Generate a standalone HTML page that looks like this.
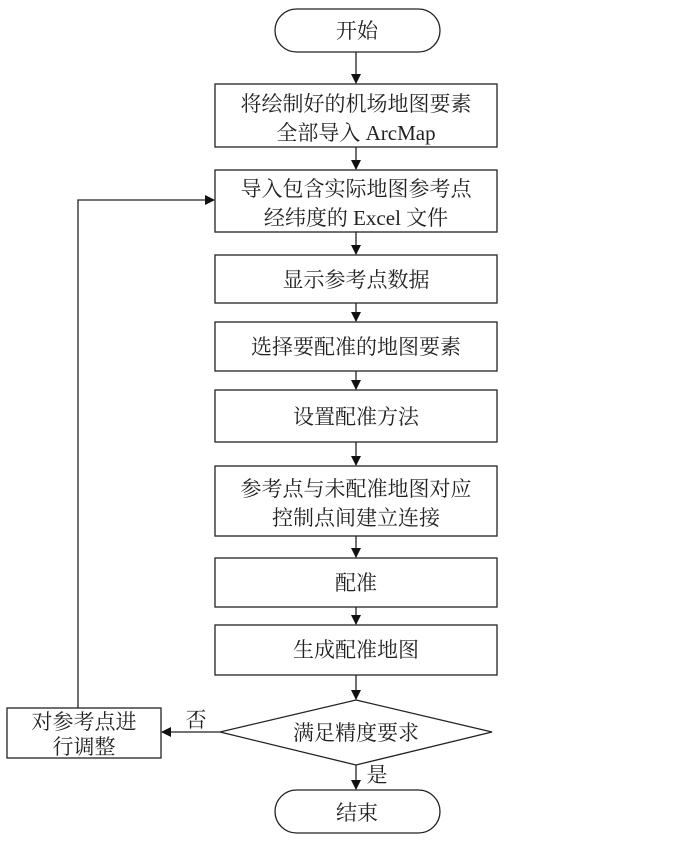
<!DOCTYPE html>
<html><head><meta charset="utf-8"><style>
html,body{margin:0;padding:0;background:#fff;}
svg text{font-family:"Liberation Serif","Noto Serif CJK SC",serif;font-size:21px;fill:#222;text-anchor:middle;}
</style></head><body>
<svg width="700" height="843" viewBox="0 0 700 843" xmlns="http://www.w3.org/2000/svg">
<defs><marker id="a" markerWidth="10" markerHeight="10" refX="9" refY="5" orient="auto" markerUnits="userSpaceOnUse"><path d="M0,0 L10,5 L0,10 z" fill="#111"/></marker></defs>
<g fill="none" stroke="#222" stroke-width="1.3">
<rect x="275" y="9" width="165" height="43" rx="21.5"/>
<rect x="215" y="84" width="282" height="63"/>
<rect x="215" y="170" width="282" height="62"/>
<rect x="215" y="255" width="282" height="48"/>
<rect x="215" y="322" width="282" height="49"/>
<rect x="215" y="390" width="282" height="52"/>
<rect x="215" y="466" width="282" height="70"/>
<rect x="215" y="558" width="282" height="49"/>
<rect x="215" y="625" width="282" height="50"/>
<polygon points="356,700 492,732 356,765 220,732"/>
<rect x="7" y="708" width="154" height="50"/>
<rect x="275" y="790" width="165" height="43" rx="21.5"/>
<line x1="356" y1="52" x2="356" y2="83" marker-end="url(#a)"/>
<line x1="356" y1="147" x2="356" y2="169" marker-end="url(#a)"/>
<line x1="356" y1="232" x2="356" y2="254" marker-end="url(#a)"/>
<line x1="356" y1="303" x2="356" y2="321" marker-end="url(#a)"/>
<line x1="356" y1="371" x2="356" y2="389" marker-end="url(#a)"/>
<line x1="356" y1="442" x2="356" y2="465" marker-end="url(#a)"/>
<line x1="356" y1="536" x2="356" y2="557" marker-end="url(#a)"/>
<line x1="356" y1="607" x2="356" y2="624" marker-end="url(#a)"/>
<line x1="356" y1="675" x2="356" y2="699" marker-end="url(#a)"/>
<line x1="356" y1="765" x2="356" y2="789" marker-end="url(#a)"/>
<line x1="220" y1="732" x2="162" y2="732" marker-end="url(#a)"/>
<polyline points="78,708 78,200 214,200" marker-end="url(#a)"/>
</g>
<text x="357" y="38">开始</text>
<text x="356" y="111">将绘制好的机场地图要素</text>
<text x="356" y="140">全部导入 ArcMap</text>
<text x="356" y="196">导入包含实际地图参考点</text>
<text x="356" y="225">经纬度的 Excel 文件</text>
<text x="356" y="287">显示参考点数据</text>
<text x="356" y="354">选择要配准的地图要素</text>
<text x="356" y="424">设置配准方法</text>
<text x="356" y="496">参考点与未配准地图对应</text>
<text x="356" y="525">控制点间建立连接</text>
<text x="356" y="590">配准</text>
<text x="356" y="657">生成配准地图</text>
<text x="356" y="740">满足精度要求</text>
<text x="84" y="729">对参考点进</text>
<text x="84" y="754">行调整</text>
<text x="196" y="727">否</text>
<text x="377" y="782">是</text>
<text x="357" y="820">结束</text>
</svg>
</body></html>
